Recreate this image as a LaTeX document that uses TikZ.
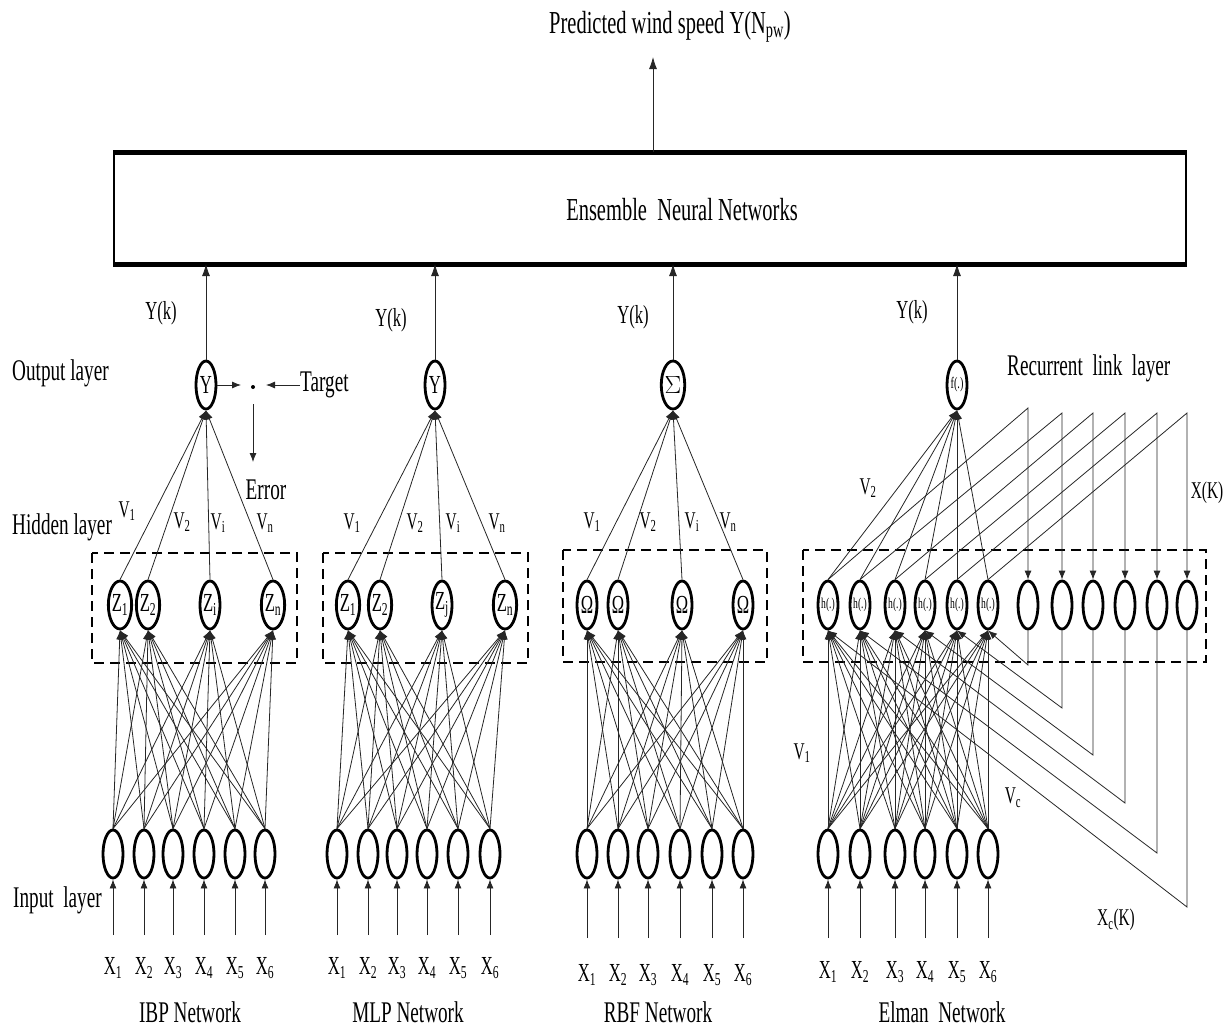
\documentclass[tikz,border=0pt]{standalone}
\usepackage{fontspec}
\setmainfont[FakeStretch=0.64]{Liberation Serif}
\usetikzlibrary{arrows.meta,shapes.geometric}
\begin{document}
\begin{tikzpicture}[x=1pt,y=-1pt,
  neuron/.style={ellipse,draw,line width=2.8pt,fill=white,minimum width=20pt,minimum height=48pt,inner sep=0pt,font=\fontsize{26}{26}\selectfont},
  conn/.style={line width=0.8pt,black!85},
  tip/.style={-{Latex[length=9pt,width=7pt]}},
  bigtip/.style={-{Latex[length=12pt,width=8pt]}},
  lbl/.style={font=\fontsize{30}{32}\selectfont,inner sep=0pt},
  big/.style={font=\fontsize{32}{34}\selectfont,inner sep=0pt},
  sml/.style={font=\fontsize{26}{28}\selectfont,inner sep=0pt},
  vl/.style={font=\fontsize{24}{26}\selectfont,inner sep=0pt},
  hbox/.style={line width=2.6pt,dash pattern=on 10pt off 6pt},
]
\useasboundingbox (0,0) rectangle (1225,1034);

% ---------------- Ensemble block ----------------
\node[draw,line width=2pt,minimum width=1072pt,minimum height=110pt,inner sep=0pt] (ens) at (650,208) {};
\draw[line width=5pt] (ens.north west) -- (ens.north east);
\draw[line width=5pt] (ens.south west) -- (ens.south east);
\node[big] (enstxt) at (682,210) {Ensemble\ \ Neural Networks};
\node[big] (pred) at (670,27) {Predicted wind speed Y(N\textsubscript{pw})};
\coordinate (pout) at (653,57);
\draw[conn,bigtip] (ens.north -| pout) -- (pout);

% ---------------- Side labels ----------------
\node[lbl,anchor=west] (outl) at (12,373) {Output layer};
\node[lbl,anchor=west] (hidl) at (12,527) {Hidden layer};
\node[lbl,anchor=west] (inl) at (13,900) {Input\ \ layer};

% ================= IBP =================
\node[neuron] (ibpY) at (206,385) {Y};
\foreach \x/\lab [count=\k] in {120/1,148/2,210/i,273/n}
  \node[neuron] (ibpH\k) at (\x,605) {Z\textsubscript{\lab}};
\foreach \x [count=\k] in {113,144,173,204,235,265} {
  \node[neuron] (ibpI\k) at (\x,854) {};
  \coordinate (ibpS\k) at (\x,935);
  \node[sml] (ibpX\k) at (\x,968) {X\textsubscript{\k}};
}
\draw[hbox] (92,553) rectangle (297,663);
\foreach \h in {1,...,4} {
  \draw[conn,tip] (ibpH\h.north) -- (ibpY.south);
  \foreach \i in {1,...,6} \draw[conn,tip] (ibpI\i.north) -- (ibpH\h.south);
}
\foreach \i in {1,...,6} \draw[conn,tip] (ibpS\i) -- (ibpI\i.south);
\draw[conn,bigtip] (ibpY.north) -- (ibpY.north |- ens.south);
\node[sml] (ibpYk) at (161,313) {Y(k)};
\node[vl] (ibpV1) at (127,511) {V\textsubscript{1}};
\node[vl] (ibpV2) at (182,522) {V\textsubscript{2}};
\node[vl] (ibpVi) at (218,523) {V\textsubscript{i}};
\node[vl] (ibpVn) at (265,523) {V\textsubscript{n}};
\node[lbl] (ibpname) at (190,1012) {IBP Network};
% target / error
\coordinate (tdl) at (241,385);
\draw[conn,tip] (ibpY.east) -- (tdl);
\coordinate (tdot) at (253,387);
\fill (tdot) circle (2pt);
\node[lbl,anchor=west] (target) at (300,385) {Target};
\coordinate (tdr) at (266,385);
\draw[conn,tip] (target.west) -- (tdr);
\coordinate (etop) at (253,404);
\coordinate (ebot) at (253,462);
\draw[conn,tip] (etop) -- (ebot);
\node[lbl] (err) at (266,490) {Error};

% ================= MLP =================
\node[neuron] (mlpY) at (435,385) {Y};
\foreach \x/\lab [count=\k] in {348/1,380/2,442/j,505/n}
  \node[neuron] (mlpH\k) at (\x,605) {Z\textsubscript{\lab}};
\foreach \x [count=\k] in {337,368,397,427,458,490} {
  \node[neuron] (mlpI\k) at (\x,854) {};
  \coordinate (mlpS\k) at (\x,935);
  \node[sml] (mlpX\k) at (\x,968) {X\textsubscript{\k}};
}
\draw[hbox] (323,553) rectangle (528,663);
\foreach \h in {1,...,4} {
  \draw[conn,tip] (mlpH\h.north) -- (mlpY.south);
  \foreach \i in {1,...,6} \draw[conn,tip] (mlpI\i.north) -- (mlpH\h.south);
}
\foreach \i in {1,...,6} \draw[conn,tip] (mlpS\i) -- (mlpI\i.south);
\draw[conn,bigtip] (mlpY.north) -- (mlpY.north |- ens.south);
\node[sml] (mlpYk) at (391,320) {Y(k)};
\node[vl] (mlpV1) at (352,523) {V\textsubscript{1}};
\node[vl] (mlpV2) at (415,523) {V\textsubscript{2}};
\node[vl] (mlpVi) at (453,523) {V\textsubscript{i}};
\node[vl] (mlpVn) at (497,523) {V\textsubscript{n}};
\node[lbl] (mlpname) at (408,1012) {MLP Network};

% ================= RBF =================
\node[neuron] (rbfY) at (673,385) {$\Sigma$};
\foreach \x [count=\k] in {587,618,682,743}
  \node[neuron] (rbfH\k) at (\x,605) {Ω};
\foreach \x [count=\k] in {587,618,648,680,712,743} {
  \node[neuron] (rbfI\k) at (\x,854) {};
  \coordinate (rbfS\k) at (\x,938);
  \node[sml] (rbfX\k) at (\x,975) {X\textsubscript{\k}};
}
\draw[hbox] (563,550) rectangle (767,662);
\foreach \h in {1,...,4} {
  \draw[conn,tip] (rbfH\h.north) -- (rbfY.south);
  \foreach \i in {1,...,6} \draw[conn,tip] (rbfI\i.north) -- (rbfH\h.south);
}
\foreach \i in {1,...,6} \draw[conn,tip] (rbfS\i) -- (rbfI\i.south);
\draw[conn,bigtip] (rbfY.north) -- (rbfY.north |- ens.south);
\node[sml] (rbfYk) at (633,317) {Y(k)};
\node[vl] (rbfV1) at (592,522) {V\textsubscript{1}};
\node[vl] (rbfV2) at (648,522) {V\textsubscript{2}};
\node[vl] (rbfVi) at (692,522) {V\textsubscript{i}};
\node[vl] (rbfVn) at (728,522) {V\textsubscript{n}};
\node[lbl] (rbfname) at (658,1012) {RBF Network};

% ================= Elman =================
\node[neuron] (elY) at (957,385) {\fontsize{16}{16}\selectfont f(.)};
\foreach \x [count=\k] in {828,860,895,925,957,988}
  \node[neuron] (elH\k) at (\x,605) {\fontsize{15}{15}\selectfont h(.)};
\foreach \x [count=\k] in {1028,1062,1093,1125,1157,1187}
  \node[neuron] (elC\k) at (\x,605) {};
\foreach \x/\ya/\yd [count=\k] in {1028/408/665,1062/413/708,1093/413/755,1125/413/803,1157/413/853,1187/413/907} {
  \coordinate (elA\k) at (\x,\ya);
  \coordinate (elD\k) at (\x,\yd);
}
\foreach \x [count=\k] in {828,860,895,925,957,988} {
  \node[neuron] (elI\k) at (\x,854) {};
  \coordinate (elS\k) at (\x,938);
  \node[sml] (elX\k) at (\x,972) {X\textsubscript{\k}};
}
\draw[hbox] (803,550) rectangle (1206,662);
\foreach \h in {1,...,6} {
  \draw[conn,tip] (elH\h.north) -- (elY.south);
  \foreach \i in {1,...,6} \draw[conn,tip] (elI\i.north) -- (elH\h.south);
  \draw[conn,tip] (elH\h.north) -- (elA\h) -- (elC\h.north);
  \pgfmathtruncatemacro\jj{7-\h}
  \draw[conn,tip] (elC\h.south) -- (elD\h) -- (elH\jj.south);
}
\foreach \i in {1,...,6} \draw[conn,tip] (elS\i) -- (elI\i.south);
\draw[conn,bigtip] (elY.north) -- (elY.north |- ens.south);
\node[sml] (elYk) at (912,312) {Y(k)};
\node[lbl,anchor=west] (recl) at (1007,368) {Recurrent\ \ link\ \ layer};
\node[vl] (elV2) at (868,488) {V\textsubscript{2}};
\node[vl] (elV1) at (802,753) {V\textsubscript{1}};
\node[vl] (elVc) at (1013,798) {V\textsubscript{c}};
\node[vl] (elXK) at (1207,493) {X(K)};
\node[vl] (elXcK) at (1116,920) {X\textsubscript{c}(K)};
\node[lbl] (elname) at (942,1012) {Elman\ \ Network};
\end{tikzpicture}
\end{document}
